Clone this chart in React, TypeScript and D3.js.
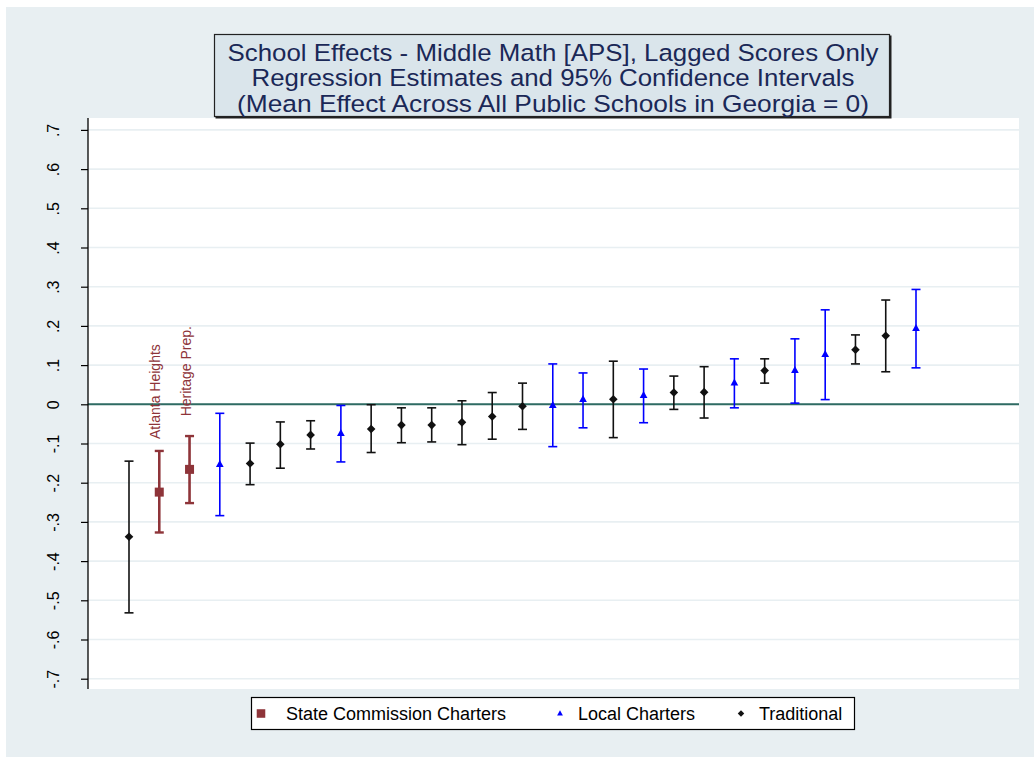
import React, { useEffect, useRef } from "react";
import * as d3 from "d3";

// school type: S = state commission charter, L = local charter, T = traditional
const schoolTypes = ["T", "S", "S", "L", "T", "T", "T", "L", "T", "T", "T", "T", "T", "T", "L", "L", "T", "L", "T", "T", "L", "T", "L", "L", "T", "T", "L"];
const estimates = [-0.338, -0.224, -0.166, -0.153, -0.151, -0.102, -0.078, -0.074, -0.063, -0.053, -0.053, -0.046, -0.031, -0.005, -0.002, 0.013, 0.013, 0.023, 0.030, 0.031, 0.055, 0.086, 0.087, 0.128, 0.139, 0.175, 0.194];
const lowerCI = [-0.532, -0.327, -0.252, -0.284, -0.205, -0.163, -0.114, -0.147, -0.123, -0.098, -0.096, -0.103, -0.089, -0.064, -0.108, -0.060, -0.085, -0.047, -0.013, -0.035, -0.009, 0.054, 0.003, 0.012, 0.103, 0.083, 0.093];
const upperCI = [-0.145, -0.119, -0.081, -0.023, -0.099, -0.045, -0.042, -0.003, -0.001, -0.009, -0.009, 0.009, 0.030, 0.054, 0.103, 0.080, 0.110, 0.090, 0.072, 0.096, 0.116, 0.116, 0.167, 0.241, 0.177, 0.266, 0.293];
const pointLabels = ["", "Atlanta Heights", "Heritage Prep.", "", "", "", "", "", "", "", "", "", "", "", "", "", "", "", "", "", "", "", "", "", "", "", ""];

const yTicks = [-0.7, -0.6, -0.5, -0.4, -0.3, -0.2, -0.1, 0, 0.1, 0.2, 0.3, 0.4, 0.5, 0.6, 0.7];
const titleLines = [
  "School Effects - Middle Math [APS], Lagged Scores Only",
  "Regression Estimates and 95% Confidence Intervals",
  "(Mean Effect Across All Public Schools in Georgia = 0)",
];
const titleWidths = [651, 603, 632];
const legendKeys = ["S", "L", "T"];
const legendNames = ["State Commission Charters", "Local Charters", "Traditional"];

const typeColor: Record<string, string> = { S: "#8e3439", L: "#0000ff", T: "#111111" };
const FONT = "'Liberation Sans', Arial, sans-serif";

const App = () => {
  const svgRef = useRef<SVGSVGElement | null>(null);

  useEffect(() => {
    if (!svgRef.current) return;
    const svg = d3.select(svgRef.current);
    svg.selectAll("*").remove();

    const plot = { left: 88, right: 1019, top: 118, bottom: 689 };

    const x = d3.scaleLinear().domain([1, estimates.length]).range([129, 916]);
    const y = d3.scaleLinear().domain([-0.7, 0.7]).range([678.7, 129.9]);
    const fmt = (d: number) => (d === 0 ? "0" : d.toFixed(1).replace("0.", "."));

    // graph region
    svg.append("rect")
      .attr("x", 6).attr("y", 7).attr("width", 1028).attr("height", 750)
      .attr("fill", "#e8eff2");

    svg.append("rect")
      .attr("x", plot.left).attr("y", plot.top)
      .attr("width", plot.right - plot.left).attr("height", plot.bottom - plot.top)
      .attr("fill", "#ffffff");

    // gridlines
    svg.append("g").selectAll("line")
      .data(yTicks)
      .enter()
      .append("line")
      .attr("x1", plot.left).attr("x2", plot.right)
      .attr("y1", d => y(d)).attr("y2", d => y(d))
      .attr("stroke", "#e8eff2")
      .attr("stroke-width", 1.6);

    // zero line
    svg.append("line")
      .attr("x1", plot.left).attr("x2", plot.right)
      .attr("y1", y(0)).attr("y2", y(0))
      .attr("stroke", "#2f6b63")
      .attr("stroke-width", 2);

    // y axis
    const yAxis = svg.append("g").attr("transform", `translate(${plot.left},0)`)
      .call(d3.axisLeft(y).tickValues(yTicks).tickFormat(d => fmt(+d)).tickSize(7).tickPadding(0));
    yAxis.select(".domain")
      .attr("d", `M0,${plot.top}V${plot.bottom}`)
      .attr("stroke", "#000").attr("stroke-width", 1.3);
    yAxis.selectAll(".tick line").attr("stroke", "#000").attr("stroke-width", 1.2);
    yAxis.selectAll(".tick text")
      .attr("x", null).attr("dy", null)
      .attr("transform", "translate(-29,0) rotate(-90)")
      .attr("text-anchor", "middle")
      .attr("fill", "#000")
      .style("font-family", FONT)
      .style("font-size", "16px");

    // error bars
    const bars = svg.append("g").selectAll("g")
      .data(estimates)
      .enter()
      .append("g");

    bars.append("line")
      .attr("x1", (d, i) => x(i + 1)).attr("x2", (d, i) => x(i + 1))
      .attr("y1", (d, i) => y(lowerCI[i])).attr("y2", (d, i) => y(upperCI[i]))
      .attr("stroke", (d, i) => typeColor[schoolTypes[i]])
      .attr("stroke-width", (d, i) => (schoolTypes[i] === "S" ? 2.6 : 1.6));

    [lowerCI, upperCI].forEach(arr => {
      bars.append("line")
        .attr("x1", (d, i) => x(i + 1) - 4.5).attr("x2", (d, i) => x(i + 1) + 4.5)
        .attr("y1", (d, i) => y(arr[i])).attr("y2", (d, i) => y(arr[i]))
        .attr("stroke", (d, i) => typeColor[schoolTypes[i]])
        .attr("stroke-width", (d, i) => (schoolTypes[i] === "S" ? 2.4 : 1.6));
    });

    // markers
    const drawMarker = (
      g: d3.Selection<any, any, any, any>,
      type: string,
      cx: number,
      cy: number,
      scale: number
    ) => {
      if (type === "S") {
        const s = 9 * scale;
        g.append("rect").attr("x", cx - s / 2).attr("y", cy - s / 2)
          .attr("width", s).attr("height", s).attr("fill", typeColor.S);
      } else if (type === "L") {
        const h = 7 * scale;
        g.append("path")
          .attr("d", `M${cx},${cy - h * 0.6}L${cx + h * 0.55},${cy + h * 0.4}L${cx - h * 0.55},${cy + h * 0.4}Z`)
          .attr("fill", typeColor.L);
      } else {
        const r = 4.3 * scale;
        g.append("path")
          .attr("d", `M${cx},${cy - r}L${cx + r},${cy}L${cx},${cy + r}L${cx - r},${cy}Z`)
          .attr("fill", typeColor.T);
      }
    };

    const markers = svg.append("g");
    estimates.forEach((v, i) => drawMarker(markers, schoolTypes[i], x(i + 1), y(v), 1));

    // point labels
    estimates.forEach((v, i) => {
      if (!pointLabels[i]) return;
      const px = x(i + 1) + 1;
      const py = y(v) - 53;
      svg.append("text")
        .attr("transform", `translate(${px},${py}) rotate(-90)`)
        .attr("text-anchor", "start")
        .attr("fill", typeColor.S)
        .style("font-family", FONT)
        .style("font-size", "14px")
        .text(pointLabels[i]);
    });

    // title box
    svg.append("rect")
      .attr("x", 215.5).attr("y", 35.5).attr("width", 676).attr("height", 83)
      .attr("fill", "#222");
    svg.append("rect")
      .attr("x", 214.5).attr("y", 34.5).attr("width", 675).attr("height", 82)
      .attr("fill", "#dae5eb")
      .attr("stroke", "#222")
      .attr("stroke-width", 1.2);
    titleLines.forEach((t, i) => {
      svg.append("text")
        .attr("x", 553).attr("y", 60.5 + i * 25.5)
        .attr("text-anchor", "middle")
        .attr("textLength", titleWidths[i])
        .attr("lengthAdjust", "spacingAndGlyphs")
        .attr("fill", "#1a2857")
        .style("font-family", FONT)
        .style("font-size", "24.5px")
        .text(t);
    });

    // legend
    svg.append("rect")
      .attr("x", 251.5).attr("y", 697.5).attr("width", 603).attr("height", 32)
      .attr("fill", "#fff")
      .attr("stroke", "#000")
      .attr("stroke-width", 1.2);
    const legendMarkX = [261, 560, 741];
    const legendTextX = [286, 578, 759];
    legendKeys.forEach((k, i) => {
      drawMarker(svg, k, legendMarkX[i], 713.5, k === "S" ? 0.95 : 0.75);
      svg.append("text")
        .attr("x", legendTextX[i]).attr("y", 720)
        .attr("fill", "#000")
        .style("font-family", FONT)
        .style("font-size", "18px")
        .text(legendNames[i]);
    });
  }, []);

  return (
    <div style={{ position: "absolute", left: 0, top: 0, background: "#fff" }}>
      <svg ref={svgRef} width={1034} height={757}></svg>
    </div>
  );
};

export default App;
